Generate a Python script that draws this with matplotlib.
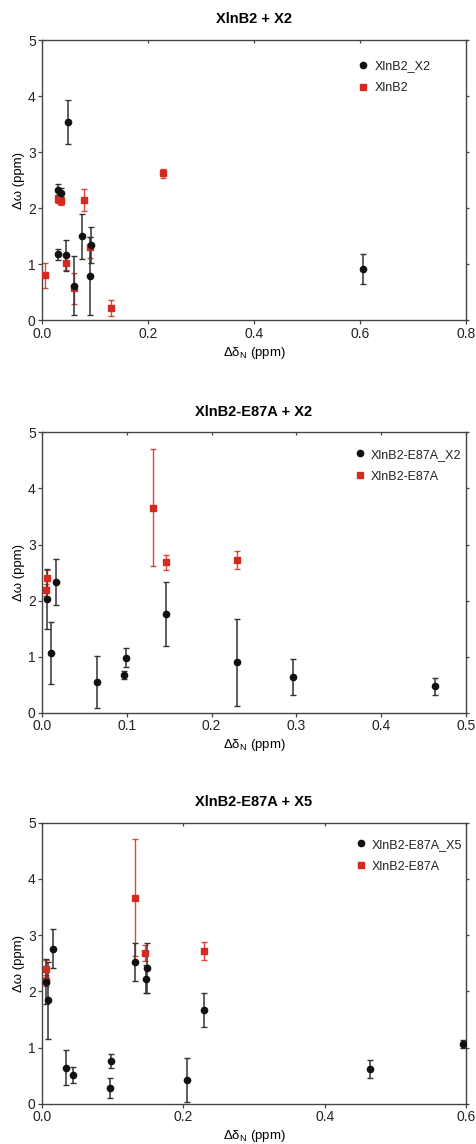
import matplotlib
matplotlib.use("Agg")
import matplotlib.pyplot as plt

# Fonts
plt.rcParams['font.family'] = ['Liberation Sans', 'DejaVu Sans']
plt.rcParams['mathtext.default'] = 'regular'

# Panel 1: XlnB2 + X2
x1_black = [0.030, 0.035, 0.050, 0.030, 0.045, 0.060, 0.076, 0.090, 0.092, 0.606]
y1_black = [2.33, 2.28, 3.54, 1.18, 1.16, 0.62, 1.50, 0.79, 1.34, 0.92]
e1_black = [0.10, 0.08, 0.39, 0.10, 0.28, 0.52, 0.40, 0.70, 0.32, 0.27]

x1_red = [0.005, 0.031, 0.036, 0.045, 0.060, 0.079, 0.091, 0.131, 0.229]
y1_red = [0.80, 2.16, 2.13, 1.03, 0.57, 2.15, 1.30, 0.22, 2.62]
e1_red = [0.22, 0.07, 0.07, 0.14, 0.27, 0.20, 0.18, 0.15, 0.08]

# Panel 2: XlnB2-E87A + X2
x2_black = [0.0055, 0.011, 0.016, 0.0645, 0.097, 0.099, 0.146, 0.2295, 0.2965, 0.464]
y2_black = [2.03, 1.06, 2.33, 0.55, 0.68, 0.98, 1.76, 0.90, 0.63, 0.47]
e2_black = [0.54, 0.55, 0.41, 0.46, 0.07, 0.17, 0.57, 0.78, 0.32, 0.15]

# Reference XlnB2-E87A (used in panels 2 and 3)
x_e87a = [0.005, 0.006, 0.131, 0.146, 0.2295]
y_e87a = [2.19, 2.40, 3.66, 2.68, 2.72]
e_e87a = [0.10, 0.15, 1.04, 0.14, 0.16]

# Panel 3: XlnB2-E87A + X5
x3_black = [0.005, 0.009, 0.016, 0.0335, 0.0443, 0.0967, 0.0976, 0.1316,
            0.147, 0.148, 0.2047, 0.229, 0.464, 0.596]
y3_black = [2.17, 1.84, 2.76, 0.64, 0.52, 0.28, 0.76, 2.52,
            2.22, 2.42, 0.43, 1.67, 0.62, 1.06]
e3_black = [0.40, 0.69, 0.35, 0.31, 0.14, 0.18, 0.12, 0.34,
            0.24, 0.44, 0.39, 0.31, 0.16, 0.07]

titles = ["XlnB2 + X2", "XlnB2-E87A + X2", "XlnB2-E87A + X5"]
black_labels = ["XlnB2_X2", "XlnB2-E87A_X2", "XlnB2-E87A_X5"]
red_labels = ["XlnB2", "XlnB2-E87A", "XlnB2-E87A"]
x_maxes = [0.8, 0.5, 0.6]
x_ticks = [[0.0, 0.2, 0.4, 0.6, 0.8],
           [0.0, 0.1, 0.2, 0.3, 0.4, 0.5],
           [0.0, 0.2, 0.4, 0.6]]

panels = [
    (x1_black, y1_black, e1_black, x1_red, y1_red, e1_red),
    (x2_black, y2_black, e2_black, x_e87a, y_e87a, e_e87a),
    (x3_black, y3_black, e3_black, x_e87a, y_e87a, e_e87a),
]

BLACK = "#111111"
RED = "#d42a20"
SPINE = "#444444"

fig = plt.figure(figsize=(4.77, 11.44), dpi=100)

# axes boxes in figure fractions (left, bottom, width, height)
boxes = [
    (0.088, 0.720, 0.889, 0.245),
    (0.088, 0.377, 0.889, 0.245),
    (0.088, 0.035, 0.889, 0.246),
]
# legend anchors (axes coords), legend sits a bit differently in each panel
legend_anchors = [(0.955, 0.985), (1.028, 1.0), (1.03, 1.0)]

for i, (xb, yb, eb, xr, yr, er) in enumerate(panels):
    ax = fig.add_axes(boxes[i])

    # error bars first
    ax.errorbar(xr, yr, yerr=er, fmt='none', ecolor=RED, alpha=0.85,
                elinewidth=1.0, capsize=2.5, capthick=1.0, zorder=2)
    ax.errorbar(xb, yb, yerr=eb, fmt='none', ecolor="#333333",
                elinewidth=1.1, capsize=2.5, capthick=1.0, zorder=3)

    # markers
    ax.plot(xb, yb, 'o', color=BLACK, markersize=4.5, linestyle='none',
            label=black_labels[i], zorder=5)
    ax.plot(xr, yr, 's', color=RED, markersize=4.2, linestyle='none',
            label=red_labels[i], zorder=4)

    ax.set_xlim(0, x_maxes[i])
    ax.set_ylim(0, 5)
    ax.set_xticks(x_ticks[i])
    ax.set_xticklabels([f"{t:.1f}" for t in x_ticks[i]])
    ax.set_yticks([0, 1, 2, 3, 4, 5])

    ax.set_title(titles[i], fontsize=10.5, fontweight='bold', pad=12)
    ax.set_xlabel("Δδ$_{N}$ (ppm)", fontsize=9.5, labelpad=3)
    ax.set_ylabel("Δω (ppm)", fontsize=9.5, labelpad=2)

    for side in ax.spines.values():
        side.set_color(SPINE)
        side.set_linewidth(1.0)

    ax.tick_params(axis='both', labelsize=10, colors=SPINE, labelcolor="#222222",
                   length=3, width=0.9, pad=1.5, direction='out')
    ax.tick_params(top=True, right=True, labeltop=False, labelright=False)

    # mirrored ticks pointing inward
    for t in ax.xaxis.get_major_ticks():
        t.tick2line.set_marker(3)
        t.tick2line.set_markersize(2.5)
    for t in ax.yaxis.get_major_ticks():
        t.tick2line.set_marker(1)
        t.tick2line.set_markersize(2.5)

    leg = ax.legend(loc='upper right', bbox_to_anchor=legend_anchors[i],
                    frameon=False, fontsize=9, handletextpad=0.3,
                    handlelength=1.2, labelspacing=0.8, borderaxespad=0.9)
    for txt in leg.get_texts():
        txt.set_color("#222222")

fig.savefig("out.png", dpi=100)
